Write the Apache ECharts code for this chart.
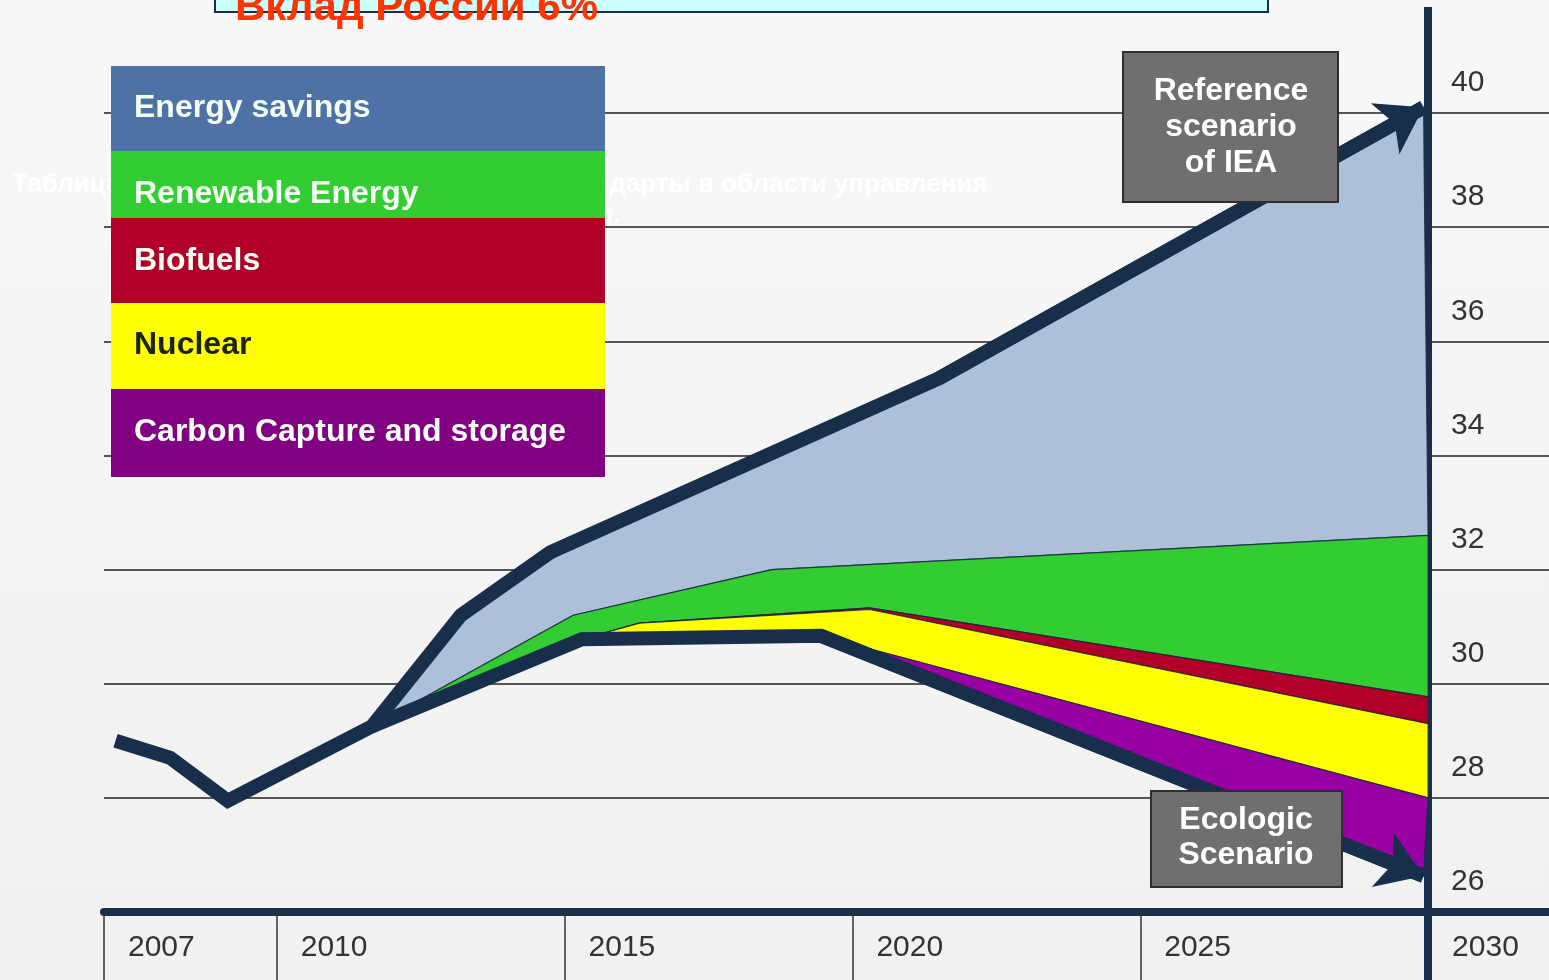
<!DOCTYPE html>
<html>
<head>
<meta charset="utf-8">
<title>Вклад России 6%</title>
<script src="https://cdn.jsdelivr.net/npm/echarts@6/dist/echarts.min.js"></script>
<style>
html, body { margin: 0; padding: 0; background: #f5f5f5; }
#chart { width: 1549px; height: 980px; }
</style>
</head>
<body>
<div id="chart"></div>
<script>
// bottom axis labels
const yearTicks = [2007, 2010, 2015, 2020, 2025, 2030]

// the two scenario lines, [year, Gt CO2]
const referenceScenario = [[2007.2, 29.0], [2008.15, 28.7], [2009.15, 27.95], [2011.65, 29.25], [2013.2, 31.2], [2014.75, 32.3], [2021.5, 35.35], [2029.92, 40.1]]
const ecologicScenario = [[2011.65, 29.25], [2015.3, 30.78], [2019.45, 30.84], [2029.92, 26.63]]

// lower edge of each wedge (top edge of the next one)
const savingsEdge = [[2011.65, 29.25], [2015.15, 31.2], [2018.6, 32.0], [2030, 32.6]]
const renewablesEdge = [[2011.65, 29.25], [2015.3, 30.78], [2016.3, 31.06], [2020.3, 31.33], [2030, 29.77]]
const biofuelsEdge = [[2015.3, 30.78], [2016.3, 31.06], [2020.3, 31.3], [2030, 29.3]]
const nuclearEdge = [[2015.3, 30.78], [2019.45, 30.84], [2030, 28.0]]

const wedgeNames = ['Energy savings', 'Renewable Energy', 'Biofuels', 'Nuclear', 'Carbon Capture and storage']
const wedgeColors = ['#adc0da', '#33cc33', '#b0002a', '#ffff00', '#9900a3']
const legendColors = ['#4f72a6', '#33cc33', '#b0002a', '#ffff00', '#820082']

const navy = '#182f4b'
const font = 'Liberation Sans, Arial, sans-serif'

const wedges = [
    { upper: referenceScenario.slice(3), lower: savingsEdge },
    { upper: savingsEdge, lower: renewablesEdge },
    { upper: renewablesEdge, lower: biofuelsEdge },
    { upper: biofuelsEdge, lower: nuclearEdge },
    { upper: nuclearEdge, lower: ecologicScenario }
]

// legend rows: [top, bottom]
const legendRows = [[66, 151], [151, 218], [218, 303], [303, 389], [389, 477]]
const legendTextY = [108, 194, 261, 345, 432]

const graphics = [
    // faint heading behind the legend
    { type: 'text', z: 1, left: 12, top: 172, style: { text: 'Таблица 1. Международные', font: 'bold 26px ' + font, fill: '#ffffff' } },
    { type: 'text', z: 1, left: 552, top: 172, style: { text: 'стандарты в области управления', font: 'bold 26px ' + font, fill: '#ffffff' } },
    { type: 'text', z: 1, left: 472, top: 203, style: { text: 'процессом.', font: 'bold 26px ' + font, fill: '#ffffff' } },
    // title box cut at the top
    { type: 'rect', z: 5, shape: { x: 215, y: -30, width: 1053, height: 42 }, style: { fill: '#ccffff', stroke: navy, lineWidth: 2 } },
    { type: 'text', z: 6, x: 235, y: 8, style: { text: 'Вклад России 6%', font: 'bold 42px ' + font, fill: '#ff3300', verticalAlign: 'middle' } },
    // right axis continues above and below the grid
    { type: 'rect', z: 3, shape: { x: 1424, y: 7, width: 8, height: 108 }, style: { fill: navy } },
    { type: 'rect', z: 3, shape: { x: 1424, y: 908, width: 8, height: 72 }, style: { fill: navy } },
    // notes
    { type: 'rect', z: 10, shape: { x: 1123, y: 52, width: 215, height: 150 }, style: { fill: '#6f6f6f', stroke: '#2e2e2e', lineWidth: 2 } },
    { type: 'text', z: 11, x: 1231, y: 127, style: { text: 'Reference\nscenario\nof IEA', font: 'bold 32px ' + font, lineHeight: 36, fill: '#ffffff', align: 'center', verticalAlign: 'middle' } },
    { type: 'rect', z: 10, shape: { x: 1151, y: 791, width: 191, height: 96 }, style: { fill: '#6f6f6f', stroke: '#2e2e2e', lineWidth: 2 } },
    { type: 'text', z: 11, x: 1246, y: 838, style: { text: 'Ecologic\nScenario', font: 'bold 32px ' + font, lineHeight: 35, fill: '#ffffff', align: 'center', verticalAlign: 'middle' } }
]

wedgeNames.forEach(function (name, i) {
    graphics.push({ type: 'rect', z: 10, shape: { x: 111, y: legendRows[i][0], width: 494, height: legendRows[i][1] - legendRows[i][0] }, style: { fill: legendColors[i] } })
    graphics.push({ type: 'text', z: 11, x: 134, y: legendTextY[i], style: { text: name, font: 'bold 32px ' + font, fill: i === 3 ? '#1c2418' : '#f2fff2', verticalAlign: 'middle' } })
})

const option = {
    backgroundColor: {
        type: 'linear', x: 0, y: 0, x2: 0, y2: 1,
        colorStops: [{ offset: 0, color: '#f8f8f8' }, { offset: 1, color: '#f1f1f0' }]
    },
    animation: false,
    grid: { left: 104, right: 0, top: 113, bottom: 68 },
    xAxis: {
        type: 'value',
        min: 2007,
        max: 2032.1,
        splitLine: { show: false },
        axisLine: { lineStyle: { color: navy, width: 8 } },
        axisTick: { show: true, customValues: yearTicks, length: 68, lineStyle: { color: '#333', width: 1.5 } },
        axisLabel: {
            customValues: yearTicks,
            formatter: function (v) { return String(v) },
            align: 'left',
            padding: [0, 0, 0, 24],
            margin: 21,
            fontFamily: font,
            fontSize: 30,
            color: '#333'
        }
    },
    yAxis: {
        type: 'value',
        position: 'right',
        offset: -121,
        min: 26,
        max: 40,
        interval: 2,
        axisLine: { show: true, lineStyle: { color: navy, width: 8 } },
        axisTick: { show: false },
        splitLine: { lineStyle: { color: '#555', width: 2 } },
        axisLabel: {
            margin: 23,
            verticalAlign: 'bottom',
            padding: [0, 0, 15, 0],
            fontFamily: font,
            fontSize: 30,
            color: '#333'
        }
    },
    series: [
        {
            type: 'custom',
            coordinateSystem: 'cartesian2d',
            clip: false,
            silent: true,
            data: wedges.map(function (w) { return w.lower[0] }),
            renderItem: function (params, api) {
                const w = wedges[params.dataIndex]
                const pts = w.upper.concat(w.lower.slice().reverse()).map(function (p) { return api.coord(p) })
                return {
                    type: 'polygon',
                    shape: { points: pts },
                    style: { fill: wedgeColors[params.dataIndex], stroke: 'rgba(24,40,64,0.85)', lineWidth: 1.2 }
                }
            }
        },
        {
            name: 'Reference scenario of IEA',
            type: 'line',
            data: referenceScenario,
            showSymbol: false,
            clip: false,
            lineStyle: { color: navy, width: 14, join: 'miter' }
        },
        {
            name: 'Ecologic Scenario',
            type: 'line',
            data: ecologicScenario,
            showSymbol: false,
            clip: false,
            lineStyle: { color: navy, width: 14, join: 'miter' }
        },
        {
            // arrow heads on the last segment of each scenario
            type: 'lines',
            coordinateSystem: 'cartesian2d',
            clip: false,
            silent: true,
            symbol: ['none', 'arrow'],
            symbolSize: [30, 44],
            lineStyle: { color: navy, width: 14, opacity: 1, curveness: 0 },
            data: [referenceScenario, ecologicScenario].map(function (s) { return { coords: s.slice(-2) } })
        }
    ],
    graphic: graphics
}

const chart = echarts.init(document.getElementById('chart'))
chart.setOption(option)
</script>
</body>
</html>
